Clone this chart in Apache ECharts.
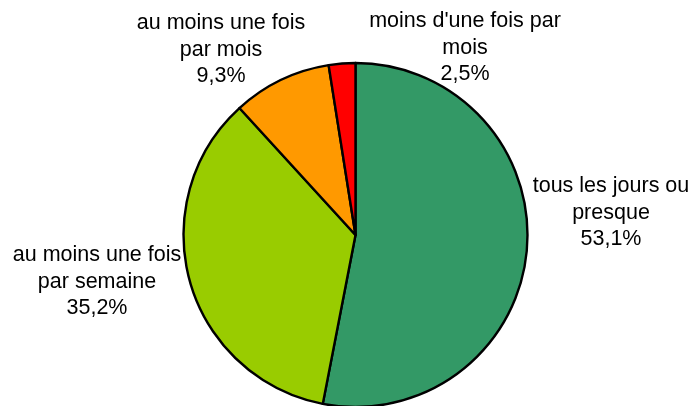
<!DOCTYPE html>
<html>
<head>
<meta charset="utf-8">
<script src="https://cdn.jsdelivr.net/npm/echarts@6/dist/echarts.min.js"></script>
<style>
  html, body { margin: 0; padding: 0; background: #fff; }
  #chart { width: 691px; height: 406px; }
</style>
</head>
<body>
<div id="chart"></div>
<script>
  // categories and values (percent)
  var categories = [
    'tous les jours ou\npresque',
    'au moins une fois\npar semaine',
    'au moins une fois\npar mois',
    "moins d'une fois par\nmois"
  ];
  var values = [53.1, 35.2, 9.3, 2.5];
  var colors = ['#339966', '#99CC00', '#FF9900', '#FF0000'];
  // where each label block sits (center of text)
  var labelPos = [[611, 213], [97, 282], [221, 50], [465, 48]];

  var chart = echarts.init(document.getElementById('chart'));
  var pieData = categories.map(function (c, i) {
    return { name: c, value: values[i], itemStyle: { color: colors[i] } };
  });

  chart.setOption({
    animation: false,
    series: [{
      type: 'pie',
      center: [355.5, 235],
      radius: 172,
      startAngle: 90,
      clockwise: true,
      data: pieData,
      itemStyle: { borderColor: '#000', borderWidth: 2.4 },
      label: {
        show: true,
        position: 'outside',
        alignTo: 'none',
        overflow: 'none',
        fontFamily: 'Liberation Sans, Arial, sans-serif',
        fontSize: 21.5,
        lineHeight: 26.5,
        color: '#000',
        align: 'center',
        formatter: function (p) {
          return p.name + '\n' + p.value.toFixed(1).replace('.', ',') + '%';
        }
      },
      labelLine: { show: false },
      labelLayout: function (p) {
        var pos = labelPos[p.dataIndex];
        return { x: pos[0], y: pos[1], align: 'center', verticalAlign: 'middle' };
      },
      emphasis: { disabled: true }
    }]
  });
</script>
</body>
</html>
